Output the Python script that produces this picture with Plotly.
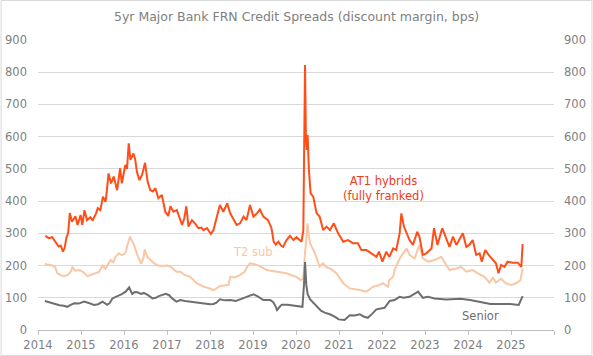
import plotly.graph_objects as go

# ---- data (decimal years, bps) ----
at1_x = [2014.17,2014.25,2014.33,2014.41,2014.48,2014.53,2014.58,2014.62,2014.66,2014.70,2014.74,2014.79,2014.83,2014.87,2014.92,2014.99,
         2015.03,2015.08,2015.14,2015.18,2015.22,2015.27,2015.31,2015.35,2015.39,2015.45,2015.51,2015.57,2015.60,2015.64,2015.67,2015.70,2015.76,2015.80,2015.84,2015.91,2015.95,
         2016.03,2016.07,2016.11,2016.15,2016.22,2016.26,2016.30,2016.36,2016.42,2016.49,2016.55,2016.61,2016.67,2016.73,2016.80,2016.88,2016.96,
         2017.03,2017.08,2017.15,2017.23,2017.29,2017.35,2017.40,2017.45,2017.50,2017.58,2017.65,2017.73,2017.80,2017.85,2017.93,2017.98,
         2018.02,2018.08,2018.16,2018.23,2018.31,2018.40,2018.47,2018.54,2018.62,2018.70,2018.78,2018.85,2018.93,
         2019.01,2019.09,2019.16,2019.24,2019.35,2019.43,2019.48,2019.53,2019.59,2019.65,2019.70,2019.78,2019.86,2019.94,
         2020.01,2020.09,2020.13,2020.17,2020.21,2020.23,2020.25,2020.27,2020.30,2020.34,2020.40,2020.48,2020.55,2020.63,2020.71,2020.79,2020.88,2020.98,
         2021.10,2021.21,2021.33,2021.44,2021.52,2021.64,2021.75,2021.87,2021.93,
         2022.01,2022.10,2022.17,2022.26,2022.33,2022.41,2022.45,2022.51,2022.57,2022.64,2022.72,2022.82,2022.87,2022.95,
         2023.03,2023.15,2023.21,2023.29,2023.40,2023.49,2023.57,2023.65,2023.73,2023.88,2023.96,
         2024.03,2024.11,2024.19,2024.27,2024.32,2024.40,2024.48,2024.58,2024.65,2024.71,2024.77,2024.85,2024.92,
         2025.04,2025.16,2025.24,2025.27]
at1_y = [292,285,288,274,259,262,243,255,286,300,363,336,345,353,326,357,
         326,372,341,345,350,340,350,362,378,372,414,398,430,486,470,455,476,450,434,502,455,
         512,500,579,528,548,530,491,465,481,519,460,434,430,440,409,419,367,
         354,384,367,372,345,326,345,384,321,341,331,316,318,310,316,305,
         298,310,352,388,367,393,362,346,326,331,352,341,388,
         352,362,374,352,341,316,274,265,274,262,258,279,292,279,
         288,279,274,310,822,600,559,605,497,424,414,362,352,310,321,310,331,300,
         274,279,269,269,248,248,238,227,243,
         212,243,227,253,248,300,362,321,300,279,264,305,290,233,
         238,253,316,264,316,285,258,290,264,300,258,
         264,279,233,238,212,248,233,217,207,176,202,196,212,
         209,209,196,267]

t2_x = [2014.16,2014.25,2014.34,2014.40,2014.45,2014.53,2014.61,2014.70,2014.76,2014.80,2014.86,2014.96,
        2015.05,2015.15,2015.25,2015.34,2015.42,2015.50,2015.54,2015.57,2015.63,2015.69,2015.75,2015.80,2015.88,2015.94,
        2016.00,2016.05,2016.08,2016.14,2016.19,2016.23,2016.31,2016.36,2016.40,2016.45,2016.48,2016.53,2016.58,2016.70,2016.80,2016.89,
        2017.00,2017.08,2017.22,2017.31,2017.42,2017.54,2017.62,2017.69,2017.77,2017.85,2017.93,
        2018.00,2018.08,2018.16,2018.23,2018.33,2018.43,2018.47,2018.58,2018.70,2018.80,2018.87,2018.93,
        2019.01,2019.09,2019.20,2019.32,2019.45,2019.55,2019.66,2019.78,2019.90,
        2020.01,2020.11,2020.17,2020.21,2020.27,2020.30,2020.33,2020.44,2020.55,2020.63,2020.70,2020.79,2020.94,
        2021.02,2021.10,2021.25,2021.37,2021.48,2021.64,2021.79,2021.95,
        2022.02,2022.14,2022.17,2022.26,2022.29,2022.41,2022.50,2022.57,2022.64,2022.76,2022.87,2022.95,
        2023.07,2023.22,2023.38,2023.49,2023.57,2023.73,2023.84,2023.96,
        2024.11,2024.23,2024.38,2024.50,2024.58,2024.65,2024.77,2024.88,
        2025.00,2025.12,2025.22,2025.27]
t2_y = [205,203,200,195,176,170,167,172,180,196,184,186,
        180,167,172,176,180,200,195,190,205,217,210,226,238,232,
        235,245,264,290,275,264,233,215,205,222,250,230,222,207,200,199,
        200,197,181,181,170,165,155,145,140,134,132,
        129,124,130,137,138,140,165,163,171,180,197,207,
        205,202,195,186,183,181,178,176,170,
        165,155,160,238,331,290,269,238,197,207,195,191,176,
        160,145,129,127,124,119,134,140,
        145,134,155,165,186,222,240,253,233,222,264,222,
        212,217,227,202,186,191,196,181,
        186,176,165,147,162,147,159,145,
        140,145,155,191]

sen_x = [2014.16,2014.27,2014.38,2014.50,2014.60,2014.68,2014.76,2014.84,2014.95,
         2015.07,2015.18,2015.30,2015.40,2015.50,2015.61,2015.67,2015.73,2015.80,2015.88,2015.96,
         2016.04,2016.12,2016.19,2016.25,2016.31,2016.40,2016.46,2016.56,2016.66,2016.74,2016.81,2016.90,2016.97,
         2017.05,2017.12,2017.22,2017.31,2017.42,2017.54,2017.70,2017.85,
         2018.00,2018.08,2018.15,2018.23,2018.35,2018.47,2018.60,2018.70,2018.85,
         2019.01,2019.10,2019.24,2019.40,2019.47,2019.52,2019.56,2019.62,2019.67,2019.80,2019.90,
         2020.00,2020.15,2020.19,2020.21,2020.24,2020.27,2020.33,2020.40,2020.50,2020.58,2020.67,2020.80,2020.92,2020.99,
         2021.13,2021.20,2021.25,2021.37,2021.48,2021.57,2021.67,2021.77,2021.87,
         2022.06,2022.12,2022.18,2022.29,2022.41,2022.50,2022.64,2022.84,2022.95,
         2023.07,2023.22,2023.50,2023.82,
         2024.05,2024.29,2024.52,2024.75,2024.98,
         2025.18,2025.27]
sen_y = [90,85,81,77,75,72,78,83,82,
         88,84,78,80,88,78,84,98,102,109,112,
         119,132,112,118,117,112,115,108,98,100,105,108,112,
         108,98,88,93,90,88,84,81,
         80,81,85,95,92,93,90,95,103,
         111,105,93,93,86,75,62,72,78,78,76,
         75,72,150,211,140,111,95,85,70,60,54,48,40,33,
         31,40,46,45,49,42,38,50,64,
         69,80,90,93,103,100,103,119,100,
         103,98,95,97,
         93,88,81,81,81,
         78,105]

year_ticks = list(range(2014, 2027))
year_labels = [str(y) for y in range(2014, 2026)] + [""]
y_ticks = list(range(0, 1000, 100))

# ---- styling ----
C_AT1 = "#FF4E17"
C_AT1_TXT = "#EE3B24"
C_T2 = "#F8C7A5"
C_SEN = "#6E6E6E"
TXT = "#808080"
GRID = "#D9D9D9"
FONT = "DejaVu Sans"

W, H = 593, 356
ML, MR, MT, MB = 37.5, 38.5, 40, 26

fig = go.Figure()
fig.add_trace(go.Scatter(x=t2_x, y=t2_y, mode="lines", line=dict(color=C_T2, width=2), name="T2 sub"))
fig.add_trace(go.Scatter(x=sen_x, y=sen_y, mode="lines", line=dict(color=C_SEN, width=2), name="Senior"))
fig.add_trace(go.Scatter(x=at1_x, y=at1_y, mode="lines", line=dict(color=C_AT1, width=2), name="AT1"))
# invisible trace for right axis
fig.add_trace(go.Scatter(x=[2014, 2026], y=[0, 900], yaxis="y2", mode="lines",
                         line=dict(width=0), opacity=0, hoverinfo="skip", showlegend=False))

pw = W - ML - MR
ph = H - MT - MB

fig.update_layout(
    width=W, height=H,
    margin=dict(l=ML, r=MR, t=MT, b=MB, pad=0, autoexpand=False),
    paper_bgcolor="white", plot_bgcolor="white",
    showlegend=False,
    font=dict(family=FONT, color=TXT, size=11.5),
    title=dict(text="5yr Major Bank FRN Credit Spreads (discount margin, bps)",
               x=0.5, xanchor="center", y=1 - 17 / H, yanchor="middle",
               font=dict(family=FONT, size=12.5, color=TXT)),
    xaxis=dict(range=[2014, 2026], tickmode="array", tickvals=year_ticks, ticktext=year_labels,
               automargin=False,
               showgrid=False, zeroline=False, showline=True, linecolor="#BFBFBF", linewidth=1,
               ticks="outside", ticklen=4, tickcolor="#BFBFBF", tickwidth=1,
               tickfont=dict(family=FONT, size=11.5, color=TXT)),
    yaxis=dict(range=[0, 900], tickmode="array", tickvals=y_ticks, automargin=False,
               showgrid=True, gridcolor=GRID, gridwidth=1, zeroline=False, showline=False,
               ticks="", ticklabelstandoff=10, tickfont=dict(family=FONT, size=11.5, color=TXT)),
    yaxis2=dict(range=[0, 900], tickmode="array", tickvals=y_ticks, overlaying="y", side="right",
                automargin=False,
                showgrid=False, zeroline=False, showline=False, ticks="", ticklabelstandoff=9,
                tickfont=dict(family=FONT, size=11.5, color=TXT)),
    annotations=[
        dict(text="AT1 hybrids<br>(fully franked)", x=2022.04, y=440, xref="x", yref="y",
             showarrow=False, font=dict(family=FONT, size=11.5, color=C_AT1_TXT), align="center"),
        dict(text="T2 sub", x=2019.0, y=241, xref="x", yref="y", showarrow=False,
             font=dict(family=FONT, size=11.5, color=C_T2)),
        dict(text="Senior", x=2024.3, y=43, xref="x", yref="y", showarrow=False,
             font=dict(family=FONT, size=11.5, color=C_SEN)),
    ],
    shapes=[dict(type="rect", xref="paper", yref="paper",
                 x0=-(ML - 0.5) / pw, x1=1 + (MR - 0.5) / pw,
                 y0=-(MB - 0.5) / ph, y1=1 + (MT - 0.5) / ph,
                 line=dict(color=GRID, width=1), layer="below")],
)

fig.write_html("out.html", config={"displayModeBar": False},
               post_script="document.body.style.margin='0';")
